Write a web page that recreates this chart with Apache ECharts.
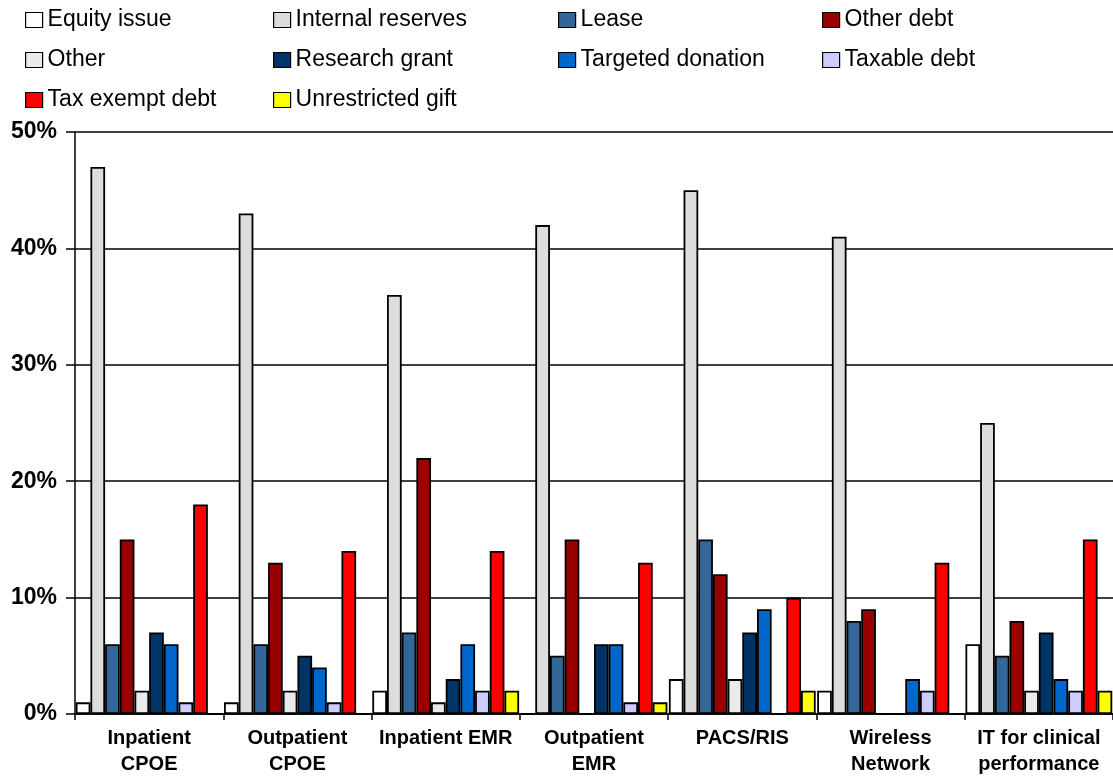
<!DOCTYPE html>
<html>
<head>
<meta charset="utf-8">
<script src="https://cdn.jsdelivr.net/npm/echarts@6/dist/echarts.min.js"></script>
<style>
  html, body { margin: 0; padding: 0; background: #fff; }
  #chart { width: 1113px; height: 777px; }
</style>
</head>
<body>
<div id="chart"></div>
<script>
// Categories of clinical IT projects
const categories = [
  'Inpatient\nCPOE', 'Outpatient\nCPOE', 'Inpatient EMR', 'Outpatient\nEMR',
  'PACS/RIS', 'Wireless\nNetwork', 'IT for clinical\nperformance'
];

// Share of funding by source (%)
const equityIssue      = [1, 1, 2, 0, 3, 2, 6];
const internalReserves = [47, 43, 36, 42, 45, 41, 25];
const lease            = [6, 6, 7, 5, 15, 8, 5];
const otherDebt        = [15, 13, 22, 15, 12, 9, 8];
const other            = [2, 2, 1, 0, 3, 0, 2];
const researchGrant    = [7, 5, 3, 6, 7, 0, 7];
const targetedDonation = [6, 4, 6, 6, 9, 3, 3];
const taxableDebt      = [1, 1, 2, 1, 0, 2, 2];
const taxExemptDebt    = [18, 14, 14, 13, 10, 13, 15];
const unrestrictedGift = [0, 0, 2, 1, 2, 0, 2];

const yTicks = { min: 0, max: 50, interval: 10 };

const seriesDefs = [
  { name: 'Equity issue',      data: equityIssue,      color: '#FFFFFF' },
  { name: 'Internal reserves', data: internalReserves, color: '#DDDDDD' },
  { name: 'Lease',             data: lease,            color: '#336699' },
  { name: 'Other debt',        data: otherDebt,        color: '#990000' },
  { name: 'Other',             data: other,            color: '#EAEAEA' },
  { name: 'Research grant',    data: researchGrant,    color: '#003366' },
  { name: 'Targeted donation', data: targetedDonation, color: '#0066CC' },
  { name: 'Taxable debt',      data: taxableDebt,      color: '#CCCCFF' },
  { name: 'Tax exempt debt',   data: taxExemptDebt,    color: '#FF0000' },
  { name: 'Unrestricted gift', data: unrestrictedGift, color: '#FFFF00' }
];

const legendColumns = [
  { left: 25,  names: ['Equity issue', 'Other', 'Tax exempt debt'] },
  { left: 273, names: ['Internal reserves', 'Research grant', 'Unrestricted gift'] },
  { left: 558, names: ['Lease', 'Targeted donation'] },
  { left: 822, names: ['Other debt', 'Taxable debt'] }
];

const font = '"Liberation Sans", Arial, sans-serif';

const chart = echarts.init(document.getElementById('chart'), null, { renderer: 'canvas' });

chart.setOption({
  backgroundColor: '#ffffff',
  animation: false,
  textStyle: { fontFamily: font, color: '#000' },
  legend: legendColumns.map(col => ({
    left: col.left,
    top: 7,
    padding: 0,
    orient: 'vertical',
    data: col.names,
    icon: 'rect',
    itemWidth: 17,
    itemHeight: 15,
    itemGap: 14,
    selectedMode: false,
    itemStyle: { borderColor: '#000', borderWidth: 1.2 },
    textStyle: { fontFamily: font, fontSize: 23, color: '#000', lineHeight: 26 }
  })),
  grid: { left: 75, right: 0, top: 132, bottom: 63, containLabel: false },
  xAxis: {
    type: 'category',
    data: categories,
    axisLine: { lineStyle: { color: '#000', width: 1.5 } },
    axisTick: { show: true, length: 6, lineStyle: { color: '#000', width: 1.5 } },
    axisLabel: {
      fontFamily: font, fontSize: 20, fontWeight: 'bold', color: '#000',
      lineHeight: 26, margin: 11, interval: 0
    }
  },
  yAxis: {
    type: 'value',
    min: yTicks.min, max: yTicks.max, interval: yTicks.interval,
    axisLine: { show: true, lineStyle: { color: '#000', width: 1.5 } },
    axisTick: { show: true, length: 9, lineStyle: { color: '#000', width: 1.5 } },
    axisLabel: {
      formatter: '{value}%', fontFamily: font, fontSize: 23, fontWeight: 'bold',
      color: '#000', margin: 18
    },
    splitLine: { show: true, lineStyle: { color: '#000', width: 1.5 } }
  },
  series: seriesDefs.map(s => ({
    name: s.name,
    type: 'bar',
    data: s.data,
    barGap: '0%',
    barCategoryGap: '1%',
    itemStyle: { color: s.color, borderColor: '#000', borderWidth: 1.8 }
  }))
});
</script>
</body>
</html>
